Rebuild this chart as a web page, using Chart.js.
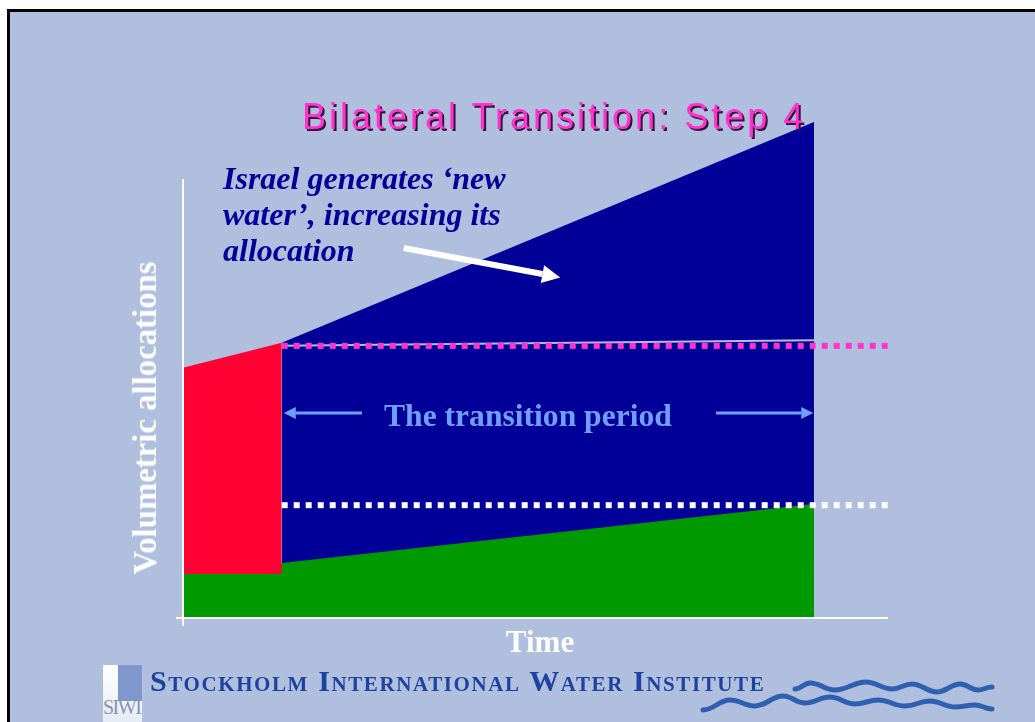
<!DOCTYPE html>
<html>
<head>
<meta charset="utf-8">
<script src="https://cdn.jsdelivr.net/npm/chart.js@4.4.1/dist/chart.umd.min.js"></script>
<style>
  body { margin: 0; background: #fff; width: 1035px; height: 722px; overflow: hidden; position: relative; }
  .slide { position: absolute; left: 7px; top: 9px; right: 0; bottom: 0; background: #b0bfde;
           border-left: 3px solid #000; border-top: 3px solid #000; }
  #allocChart { position: absolute; left: 0; top: 0; }
  .txt { position: absolute; white-space: nowrap; }
  #title { left: 302px; top: 97px; font: 36px/40px "Liberation Sans", Arial, sans-serif; letter-spacing: 3px;
           color: #ff33cc; text-shadow: 2px 2px 0 #3a1040; }
  #note { left: 223px; top: 160px; font: italic bold 32px/36px "Liberation Serif", "Times New Roman", serif; color: #000099; }
  #period { left: 384px; top: 398px; font: bold 31.6px/36px "Liberation Serif", "Times New Roman", serif; color: #6f9fff; }
  #ylabel { left: 145px; top: 418px; transform: translate(-50%, -50%) rotate(-90deg);
            font: bold 32.8px/36px "Liberation Serif", "Times New Roman", serif; color: #fff; }
  #xlabel { left: 540px; top: 642px; transform: translate(-50%, -50%);
            font: bold 31px/36px "Liberation Serif", "Times New Roman", serif; color: #fff; }
  #footer { left: 150px; top: 664px; font: bold 30px/34px "Liberation Serif", "Times New Roman", serif;
            font-variant: small-caps; letter-spacing: 1.6px; color: #1d43a0; }
  #logo { position: absolute; left: 103px; top: 665px; width: 39px; height: 57px;
          background: linear-gradient(#ffffff, #e6ebf5); overflow: hidden; }
  #logo .stripe { position: absolute; left: 15px; top: 0; width: 24px; height: 36px; background: #7f97cc; }
  #logo .name { position: absolute; left: 0; top: 31px; font: 20px/22px "Liberation Serif", serif; color: #8595b0; letter-spacing: -1.5px; }
  #waves { position: absolute; left: 0; top: 0; }
</style>
</head>
<body>
<div class="slide"></div>
<canvas id="allocChart" width="1035" height="722"></canvas>
<div class="txt" id="title">Bilateral Transition: Step 4</div>
<div class="txt" id="note">Israel generates ‘new<br>water’, increasing its<br>allocation</div>
<div class="txt" id="period">The transition period</div>
<div class="txt" id="ylabel">Volumetric allocations</div>
<div class="txt" id="xlabel">Time</div>
<div class="txt" id="footer">Stockholm International Water Institute</div>
<div id="logo"><div class="stripe"></div><div class="name">SIWI</div></div>
<svg id="waves" width="1035" height="722">
  <path d="M795,689 C801,689 804,683 810,683 C820,683 825,690 835,690 C847,690 854,682 866,682 C876,682 882,689 892,689 C900,689 904,684 912,684 C922,684 927,692 937,692 C946,692 951,684 960,684 C967,684 971,690 978,690 C984,690 986,687 992,687"
        fill="none" stroke="#2f5fb0" stroke-width="5" stroke-linecap="round"/>
  <path d="M703,710 C714,710 719,700 730,700 C740,700 745,706 755,706 C766,706 772,696 783,696 C792,696 796,703 805,703 C815,703 820,697 830,697 C840,697 845,704 855,704 C864,704 869,700 878,700 C889,700 894,706 905,706 C915,706 920,701 930,701 C940,701 945,707 955,707 C963,707 967,705 975,705 C982,705 985,709 992,709"
        fill="none" stroke="#2f5fb0" stroke-width="5" stroke-linecap="round"/>
</svg>
<script>
// time axis runs 0..10, allocation axis 0..113 (the axis line itself stops at 100)
const redTime = [0, 1.4];
const redValues = [57, 62.7];
const greenTime = [0, 8.95];
const greenValues = [10, 26];
const blueTime = [1.4, 8.95];
const blueValues = [62.7, 113];
const edgeValues = [62, 63.3];
const limitTime = [1.4, 10];
const upperLimit = [62, 62];
const lowerLimit = [25.7, 25.7];

const axisTop = 100;
const periodArrowY = 46.7;
const leftArrow = [2.54, 1.43];
const rightArrow = [7.56, 8.94];
const noteArrow = [[3.13, 84.3], [5.35, 77.6]];

const pts = (xs, ys) => xs.map((x, i) => ({ x: x, y: ys[i] }));

function drawArrow(ctx, x1, y1, x2, y2, w, headLen, headHalf, color) {
  const a = Math.atan2(y2 - y1, x2 - x1);
  const bx = x2 - headLen * Math.cos(a), by = y2 - headLen * Math.sin(a);
  ctx.strokeStyle = color;
  ctx.fillStyle = color;
  ctx.lineWidth = w;
  ctx.beginPath();
  ctx.moveTo(x1, y1);
  ctx.lineTo(bx, by);
  ctx.stroke();
  ctx.beginPath();
  ctx.moveTo(x2, y2);
  ctx.lineTo(bx + headHalf * Math.sin(a), by - headHalf * Math.cos(a));
  ctx.lineTo(bx - headHalf * Math.sin(a), by + headHalf * Math.cos(a));
  ctx.closePath();
  ctx.fill();
}

const decorations = {
  id: 'decorations',
  afterDatasetsDraw(chart) {
    const { ctx } = chart;
    const x = chart.scales.x, y = chart.scales.y;
    const x0 = x.getPixelForValue(0), y0 = y.getPixelForValue(0);
    ctx.save();
    ctx.strokeStyle = '#fff';
    ctx.lineWidth = 2;
    ctx.beginPath();
    ctx.moveTo(x0, y.getPixelForValue(axisTop));
    ctx.lineTo(x0, y0 + 8);
    ctx.moveTo(x0 - 7, y0);
    ctx.lineTo(x.getPixelForValue(x.max), y0);
    ctx.stroke();

    const py = y.getPixelForValue(periodArrowY);
    drawArrow(ctx, x.getPixelForValue(leftArrow[0]), py, x.getPixelForValue(leftArrow[1]), py, 3, 12, 6, '#6f9fff');
    drawArrow(ctx, x.getPixelForValue(rightArrow[0]), py, x.getPixelForValue(rightArrow[1]), py, 3, 12, 6, '#6f9fff');
    drawArrow(ctx,
      x.getPixelForValue(noteArrow[0][0]), y.getPixelForValue(noteArrow[0][1]),
      x.getPixelForValue(noteArrow[1][0]), y.getPixelForValue(noteArrow[1][1]),
      6, 18, 9, '#ffffff');
    ctx.restore();
  }
};

const ctx = document.getElementById('allocChart').getContext('2d');

const allocChart = new Chart(ctx, {
  type: 'line',
  data: {
    datasets: [
      { label: 'Upper limit', data: pts(limitTime, upperLimit), borderColor: '#ff33cc', borderWidth: 6,
        borderDash: [6, 6], fill: false, order: 1 },
      { label: 'Lower limit', data: pts(limitTime, lowerLimit), borderColor: '#ffffff', borderWidth: 6,
        borderDash: [6, 6], fill: false, order: 2 },
      { label: 'Edge', data: pts(blueTime, edgeValues), borderColor: '#aebfe2', borderWidth: 2,
        fill: false, order: 3 },
      { label: 'Palestinian', data: pts(redTime, redValues), borderWidth: 0, borderColor: '#ff0033',
        backgroundColor: '#ff0033', fill: { value: greenValues[0] }, order: 4 },
      { label: 'Shared', data: pts(greenTime, greenValues), borderWidth: 0, borderColor: '#009900',
        backgroundColor: '#009900', fill: 'origin', order: 5 },
      { label: 'Israel', data: pts(blueTime, blueValues), borderWidth: 0, borderColor: '#000099',
        backgroundColor: '#000099', fill: 'origin', order: 6 }
    ]
  },
  options: {
    responsive: false,
    animation: false,
    devicePixelRatio: 1,
    layout: { padding: { left: 183, right: 147, top: 122, bottom: 104 } },
    elements: { point: { radius: 0 }, line: { tension: 0 } },
    scales: {
      x: { type: 'linear', min: 0, max: 10, display: false },
      y: { type: 'linear', min: 0, max: 113, display: false }
    },
    plugins: { legend: { display: false }, tooltip: { enabled: false } }
  },
  plugins: [decorations]
});
</script>
</body>
</html>
